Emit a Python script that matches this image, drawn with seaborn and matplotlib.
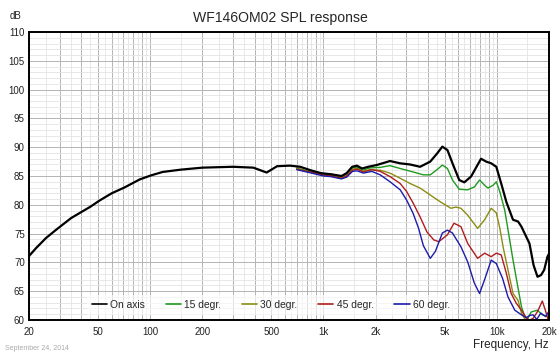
import matplotlib
matplotlib.use("Agg")
import matplotlib.pyplot as plt
import seaborn as sns
import numpy as np
import pandas as pd

# ---------------- data ----------------
on_f = [20, 22, 25, 28.5, 35, 45.4, 50.8, 60, 71, 87, 101, 118, 150, 200, 300, 394, 470, 540, 640, 734,
        842, 966, 1108, 1271, 1360, 1464, 1560, 1668, 1810, 2025, 2420, 2770, 3160, 3610, 4130, 4520,
        4850, 5190, 5550, 6070, 6490, 7100, 8110, 8680, 9280, 9930, 10600, 11350, 12400, 13260, 13870,
        15420, 16300, 17170, 18000, 18760, 19600, 20000]
on_db = [71.1, 72.5, 74.2, 75.6, 77.7, 79.7, 80.7, 82.0, 83.0, 84.4, 85.1, 85.7, 86.1, 86.45, 86.6,
         86.45, 85.6, 86.7, 86.8, 86.6, 86.0, 85.5, 85.3, 85.0, 85.5, 86.6, 86.8, 86.3, 86.6, 86.9,
         87.6, 87.2, 87.0, 86.6, 87.5, 88.9, 90.1, 89.5, 87.2, 84.3, 83.9, 84.9, 88.0, 87.5, 87.2, 86.6,
         83.7, 80.5, 77.4, 77.1, 76.2, 73.3, 69.5, 67.5, 67.8, 68.7, 71.0, 71.5]

d15_f = [700, 800, 1000, 1100, 1270, 1360, 1470, 1560, 1680, 1850, 2126, 2420, 2770, 3290, 3770, 4130,
         4520, 4850, 5190, 5550, 6070, 6790, 7420, 7950, 8500, 8900, 9530, 9930, 10400, 11100, 11350,
         12400, 13870, 14500, 15100, 15800, 17170, 18300, 19600, 20000]
d15_db = [86.4, 85.9, 85.3, 85.1, 84.8, 85.3, 86.4, 86.5, 86.0, 86.4, 86.5, 86.8, 86.3, 85.7, 85.2, 85.2,
          86.1, 86.9, 86.3, 84.3, 82.7, 82.6, 83.1, 84.3, 83.4, 82.9, 83.4, 84.0, 82.3, 79.1, 77.4,
          70.4, 62.3, 60.6, 60.3, 61.4, 61.7, 60.9, 60.6, 59.8]

d30_f = [700, 800, 1000, 1100, 1270, 1360, 1470, 1560, 1680, 1850, 2126, 2420, 2770, 3160, 3610, 4130,
         4730, 5430, 5800, 6210, 6790, 7750, 8500, 9280, 9930, 10400, 10900, 11600, 12400, 13260, 13870,
         14500, 15200, 16500, 18000, 20000]
d30_db = [86.3, 85.8, 85.2, 85.0, 84.7, 85.2, 86.2, 86.3, 85.8, 86.1, 86.0, 85.5, 84.6, 83.7, 82.9, 81.7,
          80.5, 79.4, 79.6, 79.4, 78.2, 75.9, 77.4, 79.4, 78.6, 76.0, 72.5, 68.7, 64.6, 63.4, 61.2,
          60.2, 59.8, 59.7, 59.6, 59.5]

d45_f = [700, 800, 1000, 1100, 1270, 1360, 1470, 1560, 1700, 1900, 2126, 2420, 2770, 3020, 3290, 3610,
         3950, 4330, 4630, 5190, 5660, 6210, 6790, 7750, 8500, 9280, 9930, 10600, 11350, 12100, 12950,
         13870, 14830, 15500, 16200, 17200, 18300, 19100, 20000]
d45_db = [86.2, 85.8, 85.2, 85.0, 84.6, 85.0, 86.0, 86.2, 85.7, 86.1, 85.8, 84.9, 83.7, 82.3, 80.3, 77.9,
          75.3, 73.9, 73.6, 74.8, 76.8, 76.2, 73.3, 70.7, 71.6, 71.0, 71.6, 71.3, 68.1, 64.6, 62.9,
          61.7, 60.3, 60.0, 60.3, 61.5, 63.3, 61.6, 59.5]

d60_f = [700, 800, 1000, 1100, 1270, 1360, 1470, 1560, 1700, 1900, 2126, 2420, 2770, 3020, 3290, 3530,
         3770, 4130, 4420, 4850, 5190, 5550, 6210, 6790, 7420, 7950, 8500, 9280, 9930, 10800, 11600,
         12700, 13870, 14800, 15500, 16200, 17000, 17930, 19100, 20000]
d60_db = [86.1, 85.7, 85.0, 84.9, 84.5, 84.8, 85.8, 85.9, 85.5, 85.8, 85.2, 84.0, 82.6, 80.8, 78.5, 76.0,
          72.9, 70.7, 71.9, 75.1, 75.6, 75.1, 72.7, 70.1, 66.4, 64.6, 67.0, 70.4, 69.8, 67.2, 64.0,
          61.7, 60.9, 60.4, 60.8, 60.9, 60.1, 61.2, 60.6, 61.5]

series_names = ["On axis", "15 degr.", "30 degr.", "45 degr.", "60 degr."]
x_tick_vals = [20, 50, 100, 200, 500, 1000, 2000, 5000, 10000, 20000]
x_tick_labels = ["20", "50", "100", "200", "500", "1k", "2k", "5k", "10k", "20k"]
y_tick_vals = [60, 65, 70, 75, 80, 85, 90, 95, 100, 105, 110]

# ---------------- style ----------------
sns.set_style("white")
plt.rcParams["font.family"] = ["Liberation Sans", "DejaVu Sans"]

colors = ["#000000", "#1e9a1e", "#8c8c14", "#b01c1c", "#1c1ca8"]
widths = [1.6, 1.0, 1.0, 1.0, 1.0]

frames = []
for name, f, d in zip(series_names,
                      [on_f, d15_f, d30_f, d45_f, d60_f],
                      [on_db, d15_db, d30_db, d45_db, d60_db]):
    frames.append(pd.DataFrame({"freq": f, "spl": d, "series": name}))
df = pd.concat(frames, ignore_index=True)

fig = plt.figure(figsize=(5.6, 3.56), dpi=100)
ax = fig.add_axes([29 / 560, 1 - 320 / 356, 520 / 560, 288 / 356])
ax.set_xscale("log")
ax.set_xlim(20, 20000)
ax.set_ylim(60, 110)

# grid
for dec in [10, 100, 1000, 10000]:
    for m in range(1, 10):
        v = dec * m
        if 20 <= v <= 20000:
            ax.axvline(v, color="#b4b4b4", lw=0.7, zorder=0)
        vh = dec * (m + 0.5)
        if 20 < vh < 20000:
            ax.axvline(vh, color="#e4e4e4", lw=0.6, zorder=0)
for yv in range(60, 111):
    if yv % 5 == 0:
        ax.axhline(yv, color="#b4b4b4", lw=0.7, zorder=0)
    else:
        ax.axhline(yv, color="#e4e4e4", lw=0.6, zorder=0)

for name, c, w in zip(series_names, colors, widths):
    sub = df[df["series"] == name]
    sns.lineplot(data=sub, x="freq", y="spl", color=c, lw=w, ax=ax, label=name,
                 sort=False, estimator=None, zorder=3 if name == "On axis" else 2)

ax.set_xticks(x_tick_vals)
ax.set_xticklabels(x_tick_labels)
ax.set_xticks([], minor=True)
ax.set_yticks(y_tick_vals)
ax.set_yticklabels([str(v) for v in y_tick_vals])
ax.tick_params(axis="both", length=0, labelsize=7.0, colors="#222222")
ax.tick_params(axis="x", pad=5)
ax.tick_params(axis="y", pad=3)
ax.set_xlabel("")
ax.set_ylabel("")
for s in ax.spines.values():
    s.set_color("black")
    s.set_linewidth(1.4)

leg = ax.legend(loc="lower center", bbox_to_anchor=(0.465, 0.0), ncol=5, fontsize=7.4,
                handlelength=1.5, handletextpad=0.3, columnspacing=2.0, frameon=True,
                framealpha=0.6, edgecolor="none", fancybox=False, borderpad=0.5)
leg.get_frame().set_facecolor("white")
for lh in leg.get_lines():
    lh.set_linewidth(1.2)

fig.text(280 / 560, 1 - 18 / 356, "WF146OM02 SPL response", ha="center", va="center", fontsize=10.1)
fig.text(10 / 560, 1 - 16 / 356, "dB", ha="left", va="center", fontsize=7, color="#222222")
fig.text(549 / 560, 1 - 345 / 356, "Frequency, Hz", ha="right", va="center", fontsize=8.5, color="#222222")
fig.text(5 / 560, 1 - 349 / 356, "September 24, 2014", ha="left", va="center", fontsize=5, color="#aaaaaa")

fig.savefig("out.png", dpi=100)
